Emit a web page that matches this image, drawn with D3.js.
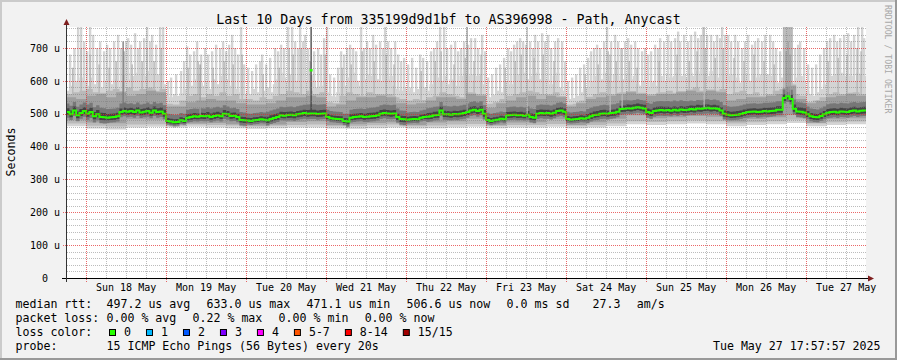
<!DOCTYPE html>
<html><head><meta charset="utf-8">
<script src="https://cdn.jsdelivr.net/npm/d3@7"></script>
<style>
body{margin:0;background:#f2f2f2}
svg{display:block}
text{font-family:"DejaVu Sans Mono",monospace;fill:#000}
</style>
</head><body>
<svg id="c" width="897" height="360"></svg>
<script>
// ---------------- DATA ----------------
const title = "Last 10 Days from 335199d9d1bf to AS396998 - Path, Anycast";
const yTickValues = [0,100,200,300,400,500,600,700];
const yTickLabels = ["0","100 u","200 u","300 u","400 u","500 u","600 u","700 u"];
const dayLabels = ["Sun 18 May","Mon 19 May","Tue 20 May","Wed 21 May","Thu 22 May","Fri 23 May","Sat 24 May","Sun 25 May","Mon 26 May","Tue 27 May"];
const endTime = "2025-05-27T17:57:57Z";
const firstSampleTime = "2025-05-17T18:00:00Z"; // hourly samples start here

// median rtt (us), hourly
const median = [
505,498,510,495,502,508, 500,505,492,498,490,489, 488,489,490,492,505,508, 506,508,505,510,504,506, 508,503,510,505,507,500,
478,476,474,475,480,478, 488,490,492,491,493,492, 494,490,493,495,492,500, 498,493,494,490,481,480,
479,478,480,481,483,482, 480,484,487,490,495,494, 496,497,495,498,500,502, 500,501,501,499,500,501,
490,486,485,484,483,478, 476,488,490,491,492,490, 491,492,493,495,500,502, 501,500,501,490,484,483,
482,483,484,483,488,490, 491,492,495,496,510,498, 498,497,499,498,500,502, 505,510,512,508,512,500,
481,478,480,482,485,483, 495,496,497,495,496,494, 497,490,488,500,502,501, 502,500,503,508,510,506,
484,482,483,484,486,485, 488,492,496,497,500,501, 500,502,503,506,514,515, 517,516,518,520,518,516,
505,502,508,510,511,510, 511,509,512,510,513,511, 512,514,513,516,515,517, 518,516,517,515,510,500,
497,495,496,497,499,502, 505,506,507,505,506,508, 507,508,509,512,512,548, 553,545,515,507,506,504,
498,492,490,489,493,498, 503,505,506,504,507,506, 505,508,510,507,509,510];
// the single highest median sample
const medianPeakHour = 73.5, medianPeakValue = 633;

// highest ping (dense part of the smoke), hourly
const smokeTop = [
570,585,595,600,610,600,585,610,590,600,580,600,565,590,605,580,600,620,625,605,615,625,600,615,630,610,600,620,625,590,
555,550,560,555,562,575,600,585,605,620,595,585,600,575,605,590,615,600,605,585,595,575,565,560,
570,560,575,565,580,570,580,565,590,605,625,610,600,620,610,600,590,615,600,620,600,580,585,610,
565,555,552,565,600,585,610,620,625,600,585,605,620,615,625,605,600,590,605,615,585,575,570,580,
570,580,565,575,585,580,570,590,625,610,600,615,590,605,600,585,615,625,615,620,600,615,620,590,
555,550,558,570,565,580,600,590,615,620,600,625,605,615,630,625,605,615,605,590,615,625,580,570,
550,545,548,555,565,575,580,600,615,620,605,625,615,600,620,615,600,605,620,605,615,590,585,600,
580,595,600,585,615,600,620,610,615,625,615,620,610,625,615,630,620,625,615,630,615,610,625,640,
615,620,600,610,595,615,620,600,615,610,620,600,620,615,610,595,610,764,764,764,595,610,615,600,
570,560,555,565,575,590,600,615,620,610,625,615,620,615,600,625,620,615];

// 2nd ping from top, 2-hourly
const smoke2Top = [
560,565,570,575,565,560,570,575,565,580,570,575,580,565,575,
530,528,540,555,560,550,560,555,565,555,560,545,
545,540,550,545,555,560,570,565,560,570,560,565,
535,532,555,565,560,555,565,560,555,560,550,545,
540,545,542,550,555,565,560,555,550,565,560,555,
530,535,545,555,560,565,570,565,560,555,565,550,
528,530,540,552,560,565,560,555,565,560,555,555,
555,560,565,570,560,565,570,580,570,565,570,575,
560,565,570,560,565,555,560,570,575,764,560,555,
535,540,550,560,565,560,555,565,560];

// upper-middle ping, 3-hourly
const smoke3Top = [
550,545,555,560,550,565,555,560,570,565,
522,522,535,540,545,540,540,532,
528,528,532,540,550,550,555,550,
522,528,540,550,550,555,550,532,
528,532,540,550,550,545,560,555,
518,532,540,550,555,545,555,550,
522,532,545,550,555,560,565,560,
555,560,560,565,570,565,570,565,
540,545,550,550,555,560,585,545,
532,538,550,555,560,555];

// spread of the inner pings around the median (us), 6-hourly
const inner4Up   = [26,28,26,24,26,22,24,26,24,22,26,25,28,22,24,26,26,22,26,25,26,22,25,26,25,22,26,26,24,28,28,26,26,26,25,26,28,24,26,26];
const inner4Down = [17,18,16,17,17,11,15,16,16,12,15,17,17,12,15,16,17,12,16,17,17,12,15,16,17,12,16,17,17,17,17,17,17,15,17,17,17,15,17,17];
const inner5Up   = [12,13,11,10,12,9,10,11,10,9,11,10,11,9,10,11,10,9,11,10,11,9,10,11,10,9,11,10,11,11,10,11,10,11,10,11,13,10,11,11];
const inner5Down = [9,9,8,9,9,6,8,8,8,6,8,9,9,6,8,8,9,6,8,9,9,6,8,8,9,6,8,9,9,9,9,9,9,8,9,9,9,8,9,9];

// lower pings, 6-hourly
const smokeMin  = [462,455,452,458,460,458,460,458,456,454,456,458,458,455,454,456,458,455,456,458,460,456,458,458,460,456,458,462,468,466,468,470,468,462,466,468,472,462,466,468];
const smoke2Low = [470,463,461,467,468,463,467,466,464,461,463,466,467,462,462,465,467,462,464,467,469,463,466,466,469,463,466,470,477,475,477,479,477,470,474,477,482,470,474,476];
const smoke3Low = [480,473,471,483,482,466,470,472,468,464,467,475,477,466,468,472,474,466,473,477,485,465,473,474,483,466,474,485,495,486,489,493,491,476,484,489,497,472,483,486];

// isolated outliers of the highest ping (hours after first sample, top in us)
const spikeHours = [
1.2,2.5,3.6,4.5,5.4,6.3,7.2,8.1,9.3,10.2,11.4,12.3,13.2,14.4,15.6,16.5,18.0,18.6,19.5,20.7,21.6,22.2,23.4,24.3,25.2,25.8,27.0,28.2,29.1,
30.6,31.5,33.0,34.5,35.4,36.3,37.2,38.4,39.3,40.5,41.7,42.6,43.8,45.0,46.2,47.1,48.0,48.9,49.8,50.7,51.6,52.5,53.4,
54.6,55.8,57.0,58.2,58.8,60.0,61.2,62.7,63.6,64.5,65.4,66.6,67.8,68.7,69.6,70.2,71.1,71.7,72.6,74.4,75.6,76.5,77.4,78.3,
79.2,80.4,81.6,82.5,83.4,84.3,85.2,86.1,87.0,88.5,89.4,90.3,91.2,92.1,93.0,94.2,95.1,95.7,96.6,97.5,98.7,99.6,100.5,101.4,
102.6,103.8,105.0,106.2,107.1,108.3,109.5,110.4,111.3,112.2,113.4,114.3,115.5,116.7,117.6,118.5,119.4,120.6,121.5,122.7,123.6,124.8,125.7,
126.6,127.8,129.0,130.2,131.4,132.6,133.5,134.4,135.3,136.2,137.1,138.0,139.2,140.1,140.7,141.6,142.8,143.7,144.6,145.5,146.7,147.6,148.8,149.7,
150.6,151.8,153.0,154.2,155.4,156.6,157.5,158.4,159.3,160.2,161.4,162.3,163.5,164.7,165.6,166.5,167.7,168.6,169.5,170.7,171.6,172.8,173.7,
174.6,175.5,176.7,177.6,178.2,179.4,180.6,181.5,182.7,183.6,184.2,185.4,186.6,187.5,188.7,189.6,190.5,191.1,192.3,193.5,194.4,195.3,196.2,196.8,197.7,
198.6,199.5,200.7,201.6,202.8,203.7,204.6,205.8,206.7,207.6,208.8,209.7,211.2,212.1,213.0,214.2,218.7,219.6,220.2,221.4,
222.6,223.8,225.0,226.2,227.4,228.3,229.2,230.4,231.3,232.2,233.4,234.6,235.5,236.4,237.6,238.8,239.4];
const spikeTops = [
680,700,764,764,720,690,764,740,700,720,690,710,700,720,740,700,720,730,710,745,700,720,730,764,720,740,710,764,764,
600,610,620,630,660,705,680,690,720,680,700,680,690,710,700,720,690,710,740,700,680,764,650,
640,630,650,660,680,650,670,700,690,710,700,764,764,720,700,764,720,740,700,690,700,680,730,764,
620,610,640,690,680,700,710,700,690,764,700,720,700,740,710,720,700,764,720,700,720,680,660,670,
650,670,640,680,670,660,690,700,720,764,764,700,710,720,690,700,720,710,730,730,700,740,690,
610,620,640,650,670,700,690,710,720,730,720,710,720,700,740,720,745,720,740,700,720,730,720,660,
600,610,620,640,650,670,690,700,710,700,720,764,720,740,720,700,720,730,710,720,700,690,700,
680,690,710,700,730,720,740,720,730,750,720,740,720,740,750,730,740,764,740,740,720,740,730,764,740,
740,720,740,720,700,720,740,710,720,730,720,740,740,720,700,690,700,710,720,700,
650,640,650,680,700,720,730,740,720,730,740,745,720,740,764,764,730];

// outliers of the 2nd highest ping
const spike2Hours = [2.0,4.5,7.2,9.9,12.9,15.0,17.4,19.8,22.8,24.3,26.4,28.5,36.6,39.6,44.1,47.4,50.1,52.8,59.1,63.9,66.9,68.1,70.5,73.2,77.7,
82.8,85.5,88.8,92.4,96.0,98.4,106.5,110.7,112.5,116.4,119.7,122.4,124.5,131.7,134.7,136.5,140.4,143.1,146.4,155.7,159.6,162.6,165.0,168.9,171.3,
177.9,183.3,186.9,189.3,191.7,194.7,197.1,200.4,203.4,206.4,209.4,212.4,215.3,215.7,228.6,231.6,234.3,237.3,238.5];
const spike2Tops = [640,700,680,650,640,660,690,650,660,700,660,700,640,660,640,660,650,680,620,640,700,680,700,660,680,
640,650,690,660,680,650,630,660,690,650,670,660,680,640,660,680,670,680,660,620,650,690,660,660,640,
660,680,660,690,700,670,700,670,660,680,660,650,764,764,660,670,680,700,690];

// outliers where many pings were high (level = number of smoke shades involved)
const darkSpikeHours = [17.1,40.2,73.5,120.3,138.3,163.2,166.8,191.4,216.0,216.6,217.2];
const darkSpikeTops  = [720,650,764,764,764,680,700,764,690,720,680];
const darkSpikeLevel = [4,3,5,3,2,2,2,2,3,3,3];

const rttLegend  = ["497.2 us avg","633.0 us max","471.1 us min","506.6 us now","0.0 ms sd"," 27.3","am/s"];
const lossLegend = ["0.00 % avg","0.22 % max","0.00 % min","0.00 % now"];
const lossLabels = ["0","1","2","3","4","5-7","8-14","15/15"];
const lossColors = ["#26ff00","#00b8ff","#0059ff","#7e00ff","#ff00ff","#ff5500","#ff0000","#a10000"];
const probeText = "15 ICMP Echo Pings (56 Bytes) every 20s";
const dateText = "Tue May 27 17:57:57 2025";

// ---------------- DRAW ----------------
const W = 897, Hh = 360;
const svg = d3.select("#c");
const L = 66, R = 866, T = 27, B = 278;
const tEnd = new Date(endTime);
const tStart = new Date(+tEnd - 10*864e5);
const t0 = +new Date(firstSampleTime);
const x = d3.scaleUtc().domain([tStart, tEnd]).range([L, R]);
const y = d3.scaleLinear().domain([0, 700]).range([B, 48]);
const tH = h => new Date(t0 + h*36e5);

svg.append("rect").attr("width",W).attr("height",Hh).attr("fill","#f2f2f2");
svg.append("rect").attr("x",0).attr("y",0).attr("width",W).attr("height",2).attr("fill","#cbcbcb");
svg.append("rect").attr("x",0).attr("y",0).attr("width",2).attr("height",Hh).attr("fill","#cbcbcb");
svg.append("rect").attr("x",0).attr("y",Hh-2).attr("width",W).attr("height",2).attr("fill","#999");
svg.append("rect").attr("x",W-2).attr("y",0).attr("width",2).attr("height",Hh).attr("fill","#999");

svg.append("rect").attr("x",L).attr("y",T).attr("width",R-L).attr("height",B-T).attr("fill","#fff");
svg.append("clipPath").attr("id","clip").append("rect").attr("x",L).attr("y",T).attr("width",R-L).attr("height",B-T);
const plot = svg.append("g").attr("clip-path","url(#clip)");

const N = median.length;
const idx = d3.range(N + 1);
const c = h => Math.min(Math.max(h,0), N - 1);
const med = h => median[c(h)];
const b5lo = h => med(h) - inner5Down[c(h)/6|0];
const b5hi = h => med(h) + inner5Up[c(h)/6|0];
const b4lo = h => med(h) - inner4Down[c(h)/6|0];
const b4hi = h => med(h) + inner4Up[c(h)/6|0];
const b3lo = h => Math.min(smoke3Low[c(h)/6|0], b4lo(h) - 2);
const b3hi = h => Math.max(smoke3Top[c(h)/3|0], b4hi(h) + 4);
const b2lo = h => Math.min(smoke2Low[c(h)/6|0], b3lo(h) - 2);
const b2hi = h => Math.max(smoke2Top[c(h)/2|0], b3hi(h) + 4);
const b1lo = h => Math.min(smokeMin[c(h)/6|0], b2lo(h) - 2);
const b1hi = h => Math.max(smokeTop[c(h)], b2hi(h) + 4);

const shades = ["#d4d4d4","#b9b9b9","#9e9e9e","#777777","#444444"];
const area = (lo, hi) => d3.area().x(h => x(tH(h))).y0(h => y(lo(h))).y1(h => y(hi(h))).curve(d3.curveStepAfter);
const spikes = (hours, tops, fill, w, base) => plot.append("g").selectAll("rect").data(hours).join("rect")
  .attr("x", d => x(tH(d)) - w/2).attr("width", w)
  .attr("y", (d,i) => y(tops[i])).attr("height", (d,i) => Math.max(0, y(base(Math.floor(d))) - y(tops[i])))
  .attr("fill", typeof fill === "function" ? fill : () => fill);

plot.append("path").datum(idx).attr("d", area(b1lo, b1hi)).attr("fill", shades[0]);
spikes(spikeHours, spikeTops, shades[0], 2.4, med);
plot.append("path").datum(idx).attr("d", area(b2lo, b2hi)).attr("fill", shades[1]);
spikes(spike2Hours, spike2Tops, shades[1], 1.5, med);
plot.append("path").datum(idx).attr("d", area(b3lo, b3hi)).attr("fill", shades[2]);
plot.append("path").datum(idx).attr("d", area(b4lo, b4hi)).attr("fill", shades[3]);
plot.append("path").datum(idx).attr("d", area(b5lo, b5hi)).attr("fill", shades[4]);
spikes(darkSpikeHours, darkSpikeTops, (d,i) => shades[darkSpikeLevel[i] - 1], 1.3, med);

// median line
plot.append("path").datum(idx)
  .attr("d", d3.line().x(h => x(tH(h))).y(h => y(med(h))).curve(d3.curveStepAfter))
  .attr("fill","none").attr("stroke","#26ff00").attr("stroke-width",2);
plot.append("rect").attr("x", x(tH(medianPeakHour)) - 1.5).attr("width",3)
  .attr("y", y(medianPeakValue) - 1).attr("height",2.5).attr("fill","#26ff00");

// grid (drawn on top, rrdtool style) -- dotted lines built from 1px dots
const grid = svg.append("g");
const days = d3.utcDay.range(tStart, tEnd);
const minorT = d3.utcHour.every(6).range(tStart, tEnd).filter(d => d.getUTCHours() !== 0 && x(d) > L + 1);
const minorC = "rgba(122,122,122,0.5)", majorC = "rgba(225,40,40,0.7)";
function vDots(xp, y0, y1, col) {
  let d = "";
  for (let yy = y0; yy < y1; yy += 2) d += `M${xp},${yy}h1v1h-1z`;
  grid.append("path").attr("d", d).attr("fill", col).attr("shape-rendering","crispEdges");
}
function hDots(yp, x0, x1, col) {
  let d = "";
  for (let xx = x0; xx < x1; xx += 2) d += `M${xx},${yp}h1v1h-1z`;
  grid.append("path").attr("d", d).attr("fill", col).attr("shape-rendering","crispEdges");
}
minorT.forEach(d => vDots(Math.round(x(d)), T, B, minorC));
for (let v = 20; v < y.invert(T); v += 20) {
  if (v % 100 === 0) continue;
  hDots(Math.round(y(v)), L + 1, R, minorC);
}
days.forEach(d => vDots(Math.round(x(d)), T, B + 4, majorC));
yTickValues.filter(v => v > 0).forEach(v => hDots(Math.round(y(v)), L - 3, R, majorC));

// axes
const ax = svg.append("g");
ax.append("line").attr("x1",L-4).attr("x2",R+3).attr("y1",B+0.5).attr("y2",B+0.5).attr("stroke","#000");
ax.append("line").attr("x1",L+0.5).attr("x2",L+0.5).attr("y1",B+4).attr("y2",T-3).attr("stroke","#333");
ax.append("path").attr("d",`M${R+8},${B+0.5}L${R+2},${B-2.5}L${R+2},${B+3.5}Z`).attr("fill","#7f1f1f");
ax.append("path").attr("d",`M${L+0.5},${T-8}L${L-2.5},${T-2}L${L+3.5},${T-2}Z`).attr("fill","#7f1f1f");

// labels
const cw10 = 10 * 0.602;
svg.selectAll(".yl").data(yTickValues).join("text")
  .attr("x", (d,i) => 60 - (yTickLabels[i].includes(" ") ? 0 : 2*cw10))
  .attr("y", d => y(d) + 3.7).attr("text-anchor","end").style("font-size","10px")
  .text((d,i) => yTickLabels[i]);
svg.selectAll(".xl").data(days).join("text")
  .attr("x", d => x(new Date(+d + 12*36e5))).attr("y", 290.5).attr("text-anchor","middle").style("font-size","10px")
  .text((d,i) => dayLabels[i]);
svg.append("text").attr("x",448.5).attr("y",23.5).attr("text-anchor","middle").style("font-size","13.3px").text(title);
svg.append("text").attr("transform","translate(15,152) rotate(-90)").attr("text-anchor","middle").style("font-size","11.6px").text("Seconds");
svg.append("text").attr("transform","translate(885,5) rotate(90)").style("font-size","8.2px").style("fill","#a8a8a8").text("RRDTOOL / TOBI OETIKER");

// legend
const fs = "11.6px", cw = 11.6 * 0.6021, gap = 16.2, col = 106.5, lx = 15.5;
const lt = (s, xx, yy) => svg.append("text").attr("x",xx).attr("y",yy).style("font-size",fs).attr("xml:space","preserve").style("white-space","pre").text(s);
lt("median rtt:", lx, 308);
let cx = col;
rttLegend.forEach(s => { lt(s, cx, 308); cx += s.length*cw + gap; });
lt("packet loss:", lx, 322);
cx = col;
lossLegend.forEach(s => { lt(s, cx, 322); cx += s.length*cw + gap; });
lt("loss color:", lx, 336);
let bx = 109;
lossLabels.forEach((s,i) => {
  svg.append("rect").attr("x",bx+0.5).attr("y",329.5).attr("width",6).attr("height",6).attr("fill",lossColors[i]).attr("stroke","#000");
  lt(s, bx + 15, 336);
  bx += 15 + s.length*cw + 15;
});
lt("probe:", lx, 350);
lt(probeText, col, 350);
svg.append("text").attr("x",880.5).attr("y",350).attr("text-anchor","end").style("font-size",fs).text(dateText);
</script>
</body></html>
